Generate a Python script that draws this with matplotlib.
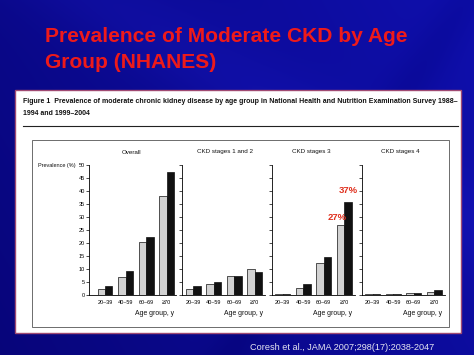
import matplotlib
matplotlib.use("Agg")
import matplotlib.pyplot as plt
import numpy as np
from matplotlib.patches import Rectangle

# ---------------- data ----------------
age_groups = ["20–39", "40–59", "60–69", "≥70"]
panel_titles = ["Overall", "CKD stages 1 and 2", "CKD stages 3", "CKD stages 4"]
overall_1988 = [2.4, 7.1, 20.3, 38.0]
overall_1999 = [3.6, 9.2, 22.4, 47.2]
stage12_1988 = [2.3, 4.1, 7.4, 9.9]
stage12_1999 = [3.5, 4.9, 7.4, 8.7]
stage3_1988 = [0.3, 2.8, 12.3, 26.9]
stage3_1999 = [0.3, 4.3, 14.5, 35.9]
stage4_1988 = [0.2, 0.2, 0.6, 1.3]
stage4_1999 = [0.2, 0.2, 0.6, 1.8]
y_ticks = [0, 5, 10, 15, 20, 25, 30, 35, 40, 45, 50]
highlight_labels = ["27%", "37%"]

slide_title = ["Prevalence of Moderate CKD by Age", "Group (NHANES)"]
fig_caption = ["Figure 1  Prevalence of moderate chronic kidney disease by age group in National Health and Nutrition Examination Survey 1988–",
               "1994 and 1999–2004"]
citation = "Coresh et al., JAMA 2007;298(17):2038-2047"

W, H = 474, 355
NARROW = ["Liberation Sans Narrow", "Liberation Sans", "DejaVu Sans"]
SANS = ["Liberation Sans", "DejaVu Sans"]

fig = plt.figure(figsize=(W / 100, H / 100), dpi=100)

# ---------------- background (pixel coordinates) ----------------
bg = fig.add_axes([0, 0, 1, 1], zorder=0)
bg.set_xlim(0, W)
bg.set_ylim(H, 0)
bg.axis("off")
yy, xx = np.mgrid[0:H, 0:W]
t = np.clip(xx / W * 0.7 + (1 - yy / H) * 0.3, 0, 1)
streak = 0.05 * np.exp(-((yy - 0.6 * xx + 60) / 50.0) ** 2) \
    - 0.04 * np.exp(-((yy + 1.5 * xx - 700) / 40.0) ** 2)
c1 = np.array([0.03, 0.02, 0.48])
c2 = np.array([0.06, 0.06, 0.68])
img = c1[None, None, :] * (1 - t[..., None]) + c2[None, None, :] * t[..., None]
img = np.clip(img + streak[..., None] * np.array([0.3, 0.3, 1.0]), 0, 1)
bg.imshow(img, extent=(0, W, H, 0), aspect="auto", zorder=0)

# white panel
bg.add_patch(Rectangle((15, 90), 446, 242.7, facecolor="white",
                       edgecolor="#a04a72", lw=1.0, zorder=1))
# inner box
bg.add_patch(Rectangle((32, 140), 417, 186.7, facecolor="none",
                       edgecolor="#555555", lw=0.6, zorder=2))
# rule
bg.plot([23, 458], [125.7, 125.7], color="#222222", lw=0.8, zorder=2)

texts_to_fit = []

# title
t1 = bg.text(45, 41.7, slide_title[0], color="#ee1a1a", fontsize=14,
             fontweight="bold", family=SANS, va="baseline", ha="left", zorder=3)
t2 = bg.text(45, 67.7, slide_title[1], color="#ee1a1a", fontsize=14,
             fontweight="bold", family=SANS, va="baseline", ha="left", zorder=3)
texts_to_fit.append((t1, 362, [t2]))

# caption
cap1 = bg.text(23, 102.7, fig_caption[0], color="#111111", fontsize=6,
               fontweight="bold", family=NARROW, va="baseline", ha="left", zorder=3)
cap2 = bg.text(23, 114.7, fig_caption[1], color="#111111", fontsize=6,
               fontweight="bold", family=NARROW, va="baseline", ha="left", zorder=3)
texts_to_fit.append((cap1, 433, [cap2]))

# citation
cit = bg.text(250, 347, citation, color="#e6e6f2", fontsize=7, family=SANS,
              va="center", ha="left", zorder=3)
texts_to_fit.append((cit, 185, []))

# ---------------- bar panels ----------------
panels = [
    (overall_1988, overall_1999, 89.0, (-0.78, 3.46)),
    (stage12_1988, stage12_1999, 182.3, (-0.525, 3.50)),
    (stage3_1988, stage3_1999, 271.7, (-0.525, 3.50)),
    (stage4_1988, stage4_1999, 361.7, (-0.525, 3.50)),
]
unit_px = 20.6
y0_px, y50_px = 295.0, 165.0
title_x = [131.7, 225.0, 311.7, 400.0]
w = 0.36
x = np.arange(len(age_groups))

panel_title_texts = []
age_texts = []
axes = []
for k, (a, b, left_px, xl) in enumerate(panels):
    width_px = (xl[1] - xl[0]) * unit_px
    ax = fig.add_axes([left_px / W, 1 - y0_px / H, width_px / W, (y0_px - y50_px) / H], zorder=5)
    ax.patch.set_alpha(0)
    ax.bar(x - w / 2, a, width=w, color="#d2d2d2", edgecolor="#111111", lw=0.5)
    ax.bar(x + w / 2, b, width=w, color="#111111", edgecolor="#111111", lw=0.5)
    ax.set_xlim(*xl)
    ax.set_ylim(0, 50)
    for s in ["top", "right"]:
        ax.spines[s].set_visible(False)
    ax.spines["left"].set_linewidth(0.6)
    ax.spines["bottom"].set_linewidth(0.6)
    ax.set_yticks(y_ticks)
    ax.tick_params(axis="y", length=2, width=0.5, pad=0.8, labelsize=4.0)
    if k > 0:
        ax.set_yticklabels([])
    else:
        for lab in ax.get_yticklabels():
            lab.set_family(NARROW)
    ax.set_xticks(x)
    ax.set_xticklabels(age_groups, fontsize=4.0, family=NARROW)
    ax.tick_params(axis="x", length=0, pad=3.5)
    right_px = left_px + width_px
    at = bg.text(right_px - 2, 313.5, "Age group, y", fontsize=5.4, family=NARROW,
                 ha="right", va="center", color="#111111", zorder=3)
    age_texts.append(at)
    pt = bg.text(title_x[k], 152, panel_titles[k], fontsize=5, family=NARROW,
                 ha="center", va="center", color="#111111", zorder=3)
    panel_title_texts.append(pt)
    axes.append(ax)

texts_to_fit.append((panel_title_texts[1], 56, panel_title_texts[:1] + panel_title_texts[2:]))
texts_to_fit.append((age_texts[0], 39, age_texts[1:]))

prev = bg.text(38, 166, "Prevalence (%)", fontsize=5, family=NARROW, ha="left",
               va="center", color="#111111", zorder=3)
texts_to_fit.append((prev, 38, []))

# highlight labels on CKD stage 3
ax3 = axes[2]
ax3.text(3 - w / 2 - 0.17, stage3_1988[3] + 2.8, highlight_labels[0], color="#e0301e",
         fontsize=6.8, fontweight="bold", family=SANS, ha="center", va="center")
ax3.text(3 + w / 2, stage3_1999[3] + 4.2, highlight_labels[1], color="#e0301e",
         fontsize=6.8, fontweight="bold", family=SANS, ha="center", va="center")

# fit text widths
fig.canvas.draw()
r = fig.canvas.get_renderer()
for _ in range(2):
    for txt, target, others in texts_to_fit:
        bb = txt.get_window_extent(r)
        f = txt.get_fontsize() * target / bb.width
        txt.set_fontsize(f)
        for o in others:
            o.set_fontsize(f)
    fig.canvas.draw()

fig.savefig("out.png", dpi=100)
